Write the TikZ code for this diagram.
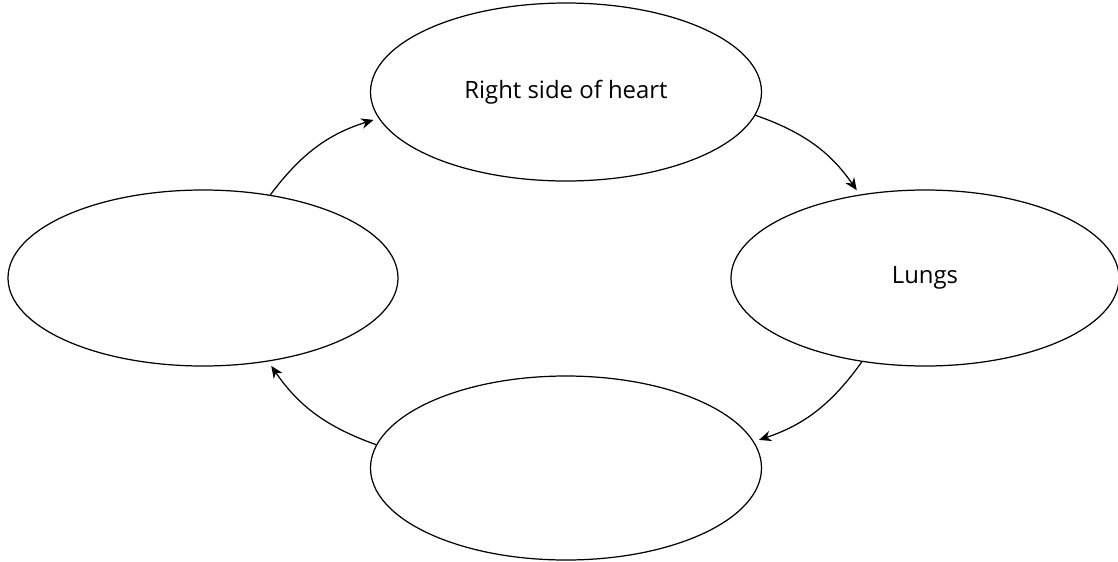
\documentclass[tikz,border=0pt]{standalone}
\usepackage{fontspec}
\setmainfont{Open Sans}
\usetikzlibrary{shapes.geometric,arrows.meta}
\begin{document}
\begin{tikzpicture}[font=\fontsize{13.6}{16}\selectfont,
  stage/.style={draw,ellipse,line width=0.7pt,inner sep=0pt,minimum width=7.82cm,minimum height=3.56cm},
  flow/.style={-{Stealth[length=7pt,width=6pt]},line width=0.7pt,shorten >=3pt,bend left=18}]
\useasboundingbox (0,0) rectangle (22.36,-11.22);
\node[stage] (heart) at (11.32,-1.84) {Right side of heart};
\node[stage,minimum width=7.76cm,minimum height=3.52cm] (lungs) at (18.5,-5.56) {Lungs};
\node[stage,minimum width=7.8cm,minimum height=3.52cm] (body) at (4.06,-5.56) {};
\node[stage,minimum height=3.68cm] (left) at (11.32,-9.36) {};
% circulation
\draw[flow] (heart.-7) to (lungs.128);
\draw[flow] (lungs.-127) to (left.8);
\draw[flow] (left.173) to (body.-52);
\draw[flow] (body.51) to (heart.-172);
\end{tikzpicture}
\end{document}
